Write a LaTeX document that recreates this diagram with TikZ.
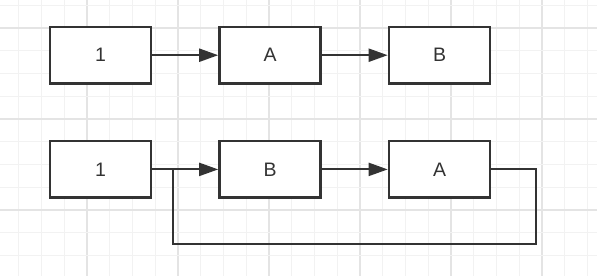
\documentclass[tikz,border=0pt]{standalone}
\usepackage{fontspec}
\setmainfont{Liberation Sans}
\usetikzlibrary{arrows.meta}
\definecolor{ink}{HTML}{333333}
\definecolor{gminor}{HTML}{F2F2F2}
\definecolor{gmajor}{HTML}{E4E4E4}
\tikzset{
  boxnode/.style={draw=ink, line width=2.6pt, fill=white, minimum width=101pt, minimum height=56.5pt, inner sep=0pt, font=\fontsize{19.5}{19.5}\selectfont, text=ink},
  link/.style={draw=ink, line width=2.1pt, -{Triangle[length=19pt,width=13pt]}},
  loopline/.style={draw=ink, line width=2.1pt}
}
\begin{document}
\begin{tikzpicture}[x=1pt,y=-1pt]
\useasboundingbox (0,0) rectangle (597,276);
\fill[white] (0,0) rectangle (597,276);
% grid
\foreach \k in {0,...,25}{
  \pgfmathsetmacro{\xx}{18.75+22.75*\k}
  \pgfmathtruncatemacro{\m}{mod(\k,4)}
  \ifnum\m=3 \draw[gmajor, line width=1.2pt] (\xx,0) -- (\xx,276);
  \else \draw[gminor, line width=1pt] (\xx,0) -- (\xx,276); \fi
}
\foreach \k in {0,...,11}{
  \pgfmathsetmacro{\yy}{5.25+22.75*\k}
  \pgfmathtruncatemacro{\m}{mod(\k,4)}
  \ifnum\m=1 \draw[gmajor, line width=1.2pt] (0,\yy) -- (597,\yy);
  \else \draw[gminor, line width=1pt] (0,\yy) -- (597,\yy); \fi
}
% row 1
\node[boxnode] (one1) at (100.5,55.2) {1};
\node[boxnode] (a1) at (270,55.2) {A};
\node[boxnode] (b1) at (439.5,55.2) {B};
\draw[link] (one1) -- (a1);
\draw[link] (a1) -- (b1);
% row 2
\node[boxnode] (one2) at (100.5,169.4) {1};
\node[boxnode] (b2) at (270,169.4) {B};
\node[boxnode] (a2) at (439.5,169.4) {A};
\draw[link] (one2) -- (b2);
\draw[link] (b2) -- (a2);
\coordinate (join) at (173,169.4);
\draw[loopline] (a2.east) -- (536,169.4) -- (536,243.7) -- (173,243.7) -- (join);
\end{tikzpicture}
\end{document}
